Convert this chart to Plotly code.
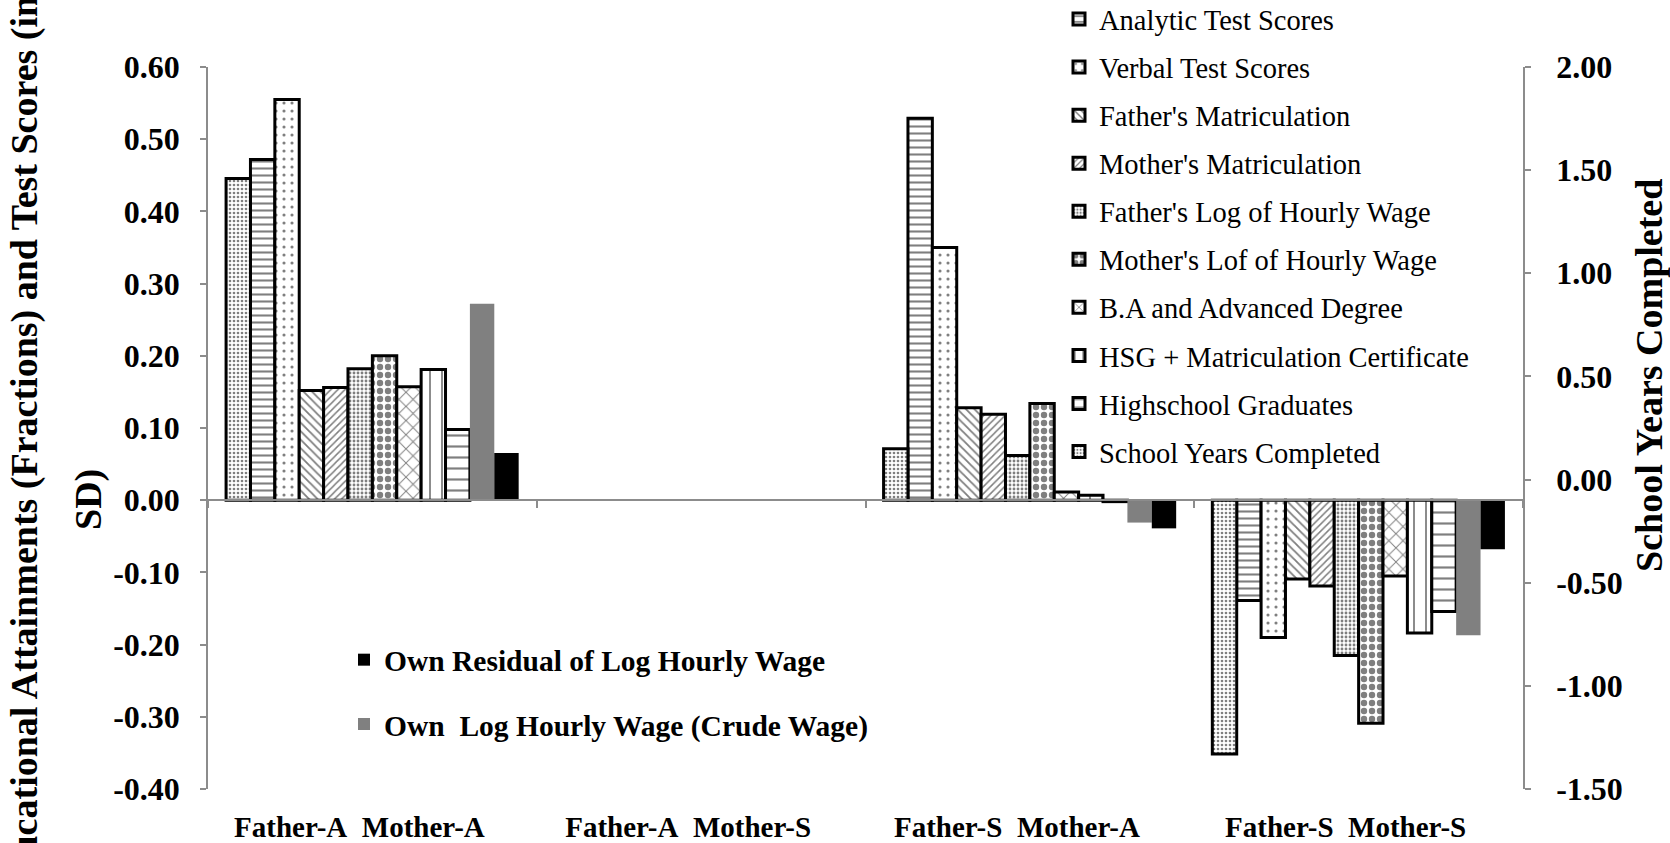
import plotly.graph_objects as go

# ---------------- data ----------------
categories = ["Father-A\u00a0 Mother-A", "Father-A\u00a0 Mother-S",
              "Father-S\u00a0 Mother-A", "Father-S\u00a0 Mother-S"]

# secondary axis series (school years, in years)
school_years = [1.46, None, 0.15, -1.33]

# primary axis series (fractions / SD)
analytic = [0.472, None, 0.529, -0.139]
verbal = [0.555, None, 0.350, -0.190]
father_matric = [0.152, None, 0.128, -0.109]
mother_matric = [0.156, None, 0.119, -0.119]
father_logwage = [0.182, None, 0.062, -0.215]
mother_logwage = [0.200, None, 0.134, -0.309]
ba_degree = [0.157, None, 0.0115, -0.105]
hsg_matric = [0.181, None, 0.007, -0.184]
hs_graduates = [0.098, None, -0.002, -0.154]
own_crude_wage = [0.272, None, -0.031, -0.187]
own_residual_wage = [0.0655, None, -0.039, -0.068]

y1_ticks = [-0.4, -0.3, -0.2, -0.1, 0.0, 0.1, 0.2, 0.3, 0.4, 0.5, 0.6]
y2_ticks = [-1.5, -1.0, -0.5, 0.0, 0.5, 1.0, 1.5, 2.0]

legend1_order = ["Analytic Test Scores", "Verbal Test Scores", "Father's Matriculation",
                 "Mother's Matriculation", "Father's Log of Hourly Wage",
                 "Mother's Lof of Hourly Wage", "B.A and Advanced Degree",
                 "HSG + Matriculation Certificate", "Highschool Graduates",
                 "School Years Completed"]

# ---------------- layout geometry ----------------
W, H = 1670, 843
L, R, T, B = 208, 147, 67, 54
PW, PH = W - L - R, H - T - B
Y1 = [y1_ticks[0], y1_ticks[-1]]
Y2 = [y2_ticks[0], y2_ticks[-1]]
zero_frac = (0 - Y1[0]) / (Y1[1] - Y1[0])
base2 = Y2[0] + zero_frac * (Y2[1] - Y2[0])   # secondary value level with primary zero


def px_x(px):
    return (px - L) / PW


def px_y(py):
    return 1 - (py - T) / PH


SERIF = "Liberation Serif"
AXIS_GRAY = "#8c8c8c"

# styles (bar order)
styles = {
    "School Years Completed": dict(shape=".", size=4, solidity=0.35),
    "Analytic Test Scores": dict(shape="-", size=7, solidity=0.3),
    "Verbal Test Scores": dict(shape=".", size=8, solidity=0.12),
    "Father's Matriculation": dict(shape="\\", size=6, solidity=0.3),
    "Mother's Matriculation": dict(shape="/", size=5, solidity=0.3),
    "Father's Log of Hourly Wage": dict(shape=".", size=4, solidity=0.4),
    "Mother's Lof of Hourly Wage": dict(shape=".", size=8, solidity=0.5),
    "B.A and Advanced Degree": dict(shape="x", size=10, solidity=0.18),
    "HSG + Matriculation Certificate": dict(shape="|", size=12, solidity=0.15),
    "Highschool Graduates": dict(shape="-", size=11, solidity=0.2),
}

primary_series = [
    ("Analytic Test Scores", analytic),
    ("Verbal Test Scores", verbal),
    ("Father's Matriculation", father_matric),
    ("Mother's Matriculation", mother_matric),
    ("Father's Log of Hourly Wage", father_logwage),
    ("Mother's Lof of Hourly Wage", mother_logwage),
    ("B.A and Advanced Degree", ba_degree),
    ("HSG + Matriculation Certificate", hsg_matric),
    ("Highschool Graduates", hs_graduates),
]


def pattern_marker(name):
    st = styles[name]
    return dict(color="white", line=dict(color="black", width=3),
                pattern=dict(shape=st["shape"], size=st["size"], solidity=st["solidity"],
                             fgcolor="black", bgcolor="white", fillmode="overlay"))


fig = go.Figure()

# School years on secondary axis
name = "School Years Completed"
fig.add_trace(go.Bar(
    x=categories, y=[None if v is None else v - base2 for v in school_years], base=base2,
    yaxis="y2", name=name, marker=pattern_marker(name),
    alignmentgroup="all", offsetgroup="0", legend="legend",
    legendgroup=name, legendrank=legend1_order.index(name) + 1))

for i, (name, vals) in enumerate(primary_series, start=1):
    fig.add_trace(go.Bar(
        x=categories, y=vals, name=name, marker=pattern_marker(name),
        alignmentgroup="all", offsetgroup=str(i), legend="legend",
        legendgroup=name, legendrank=legend1_order.index(name) + 1))

fig.add_trace(go.Bar(
    x=categories, y=own_crude_wage, name="<b>Own\u00a0 Log Hourly Wage (Crude Wage)</b>",
    marker=dict(color="#808080", line=dict(width=0)),
    alignmentgroup="all", offsetgroup="10", legend="legend2",
    legendgroup="crude", legendrank=2))
fig.add_trace(go.Bar(
    x=categories, y=own_residual_wage, name="<b>Own Residual of Log Hourly Wage</b>",
    marker=dict(color="#000000", line=dict(width=0)),
    alignmentgroup="all", offsetgroup="11", legend="legend2",
    legendgroup="resid", legendrank=1))

cat_font = dict(family=SERIF, size=29, color="black", weight="bold")
val_font = dict(family=SERIF, size=32, color="black", weight="bold")

fig.update_layout(
    width=W, height=H,
    margin=dict(l=L, r=R, t=T, b=B, autoexpand=False),
    paper_bgcolor="white", plot_bgcolor="white",
    barmode="group", bargap=0.11, bargroupgap=0,
    font=dict(family=SERIF, color="black"),
    xaxis=dict(type="category", anchor="free", position=zero_frac,
               showline=True, linecolor=AXIS_GRAY, linewidth=1.5,
               ticks="outside", tickson="boundaries", ticklen=7, tickwidth=1.5,
               tickcolor=AXIS_GRAY, ticklabelstandoff=301, ticklabelshift=-13,
               tickfont=cat_font, showgrid=False, zeroline=False),
    yaxis=dict(range=Y1, tickvals=y1_ticks, ticktext=[f"{v:.2f}" for v in y1_ticks],
               showline=True, linecolor=AXIS_GRAY, linewidth=1.5, ticks="outside",
               ticklen=6, tickwidth=1.5, tickcolor=AXIS_GRAY, ticklabelstandoff=14,
               tickfont=val_font, showgrid=False, zeroline=False),
    yaxis2=dict(range=Y2, tickvals=y2_ticks, ticktext=[f"{v:.2f}" for v in y2_ticks],
                overlaying="y", side="right", anchor="x",
                showline=True, linecolor=AXIS_GRAY, linewidth=1.5, ticks="outside",
                ticklen=6, tickwidth=1.5, tickcolor=AXIS_GRAY, ticklabelstandoff=19,
                tickfont=val_font, showgrid=False, zeroline=False),
    legend=dict(x=px_x(1059), y=px_y(-6), xanchor="left", yanchor="top",
                bgcolor="rgba(0,0,0,0)", font=dict(family=SERIF, size=28.5, color="black"),
                tracegroupgap=8, maxheight=1000, itemclick=False, itemdoubleclick=False),
    legend2=dict(x=px_x(344), y=px_y(634), xanchor="left", yanchor="top",
                 bgcolor="rgba(0,0,0,0)", font=dict(family=SERIF, size=29.5, color="black"),
                 tracegroupgap=23, itemclick=False, itemdoubleclick=False),
    showlegend=True,
)

fig.add_annotation(text="Educational Attainments (Fractions) and Test Scores (in",
                   xref="paper", yref="paper", x=px_x(24), y=px_y(450),
                   xanchor="center", yanchor="middle", textangle=-90, showarrow=False,
                   font=dict(family=SERIF, size=38, color="black", weight="bold"))
fig.add_annotation(text="SD)", xref="paper", yref="paper", x=px_x(88), y=px_y(500),
                   xanchor="center", yanchor="middle", textangle=-90, showarrow=False,
                   font=dict(family=SERIF, size=38, color="black", weight="bold"))
fig.add_annotation(text="School Years Completed", xref="paper", yref="paper",
                   x=px_x(1649), y=px_y(376), xanchor="center", yanchor="middle",
                   textangle=-90, showarrow=False,
                   font=dict(family=SERIF, size=38, color="black", weight="bold"))

fig.write_html("out.html", config={"displayModeBar": False},
               post_script="document.body.style.margin='0px';")
